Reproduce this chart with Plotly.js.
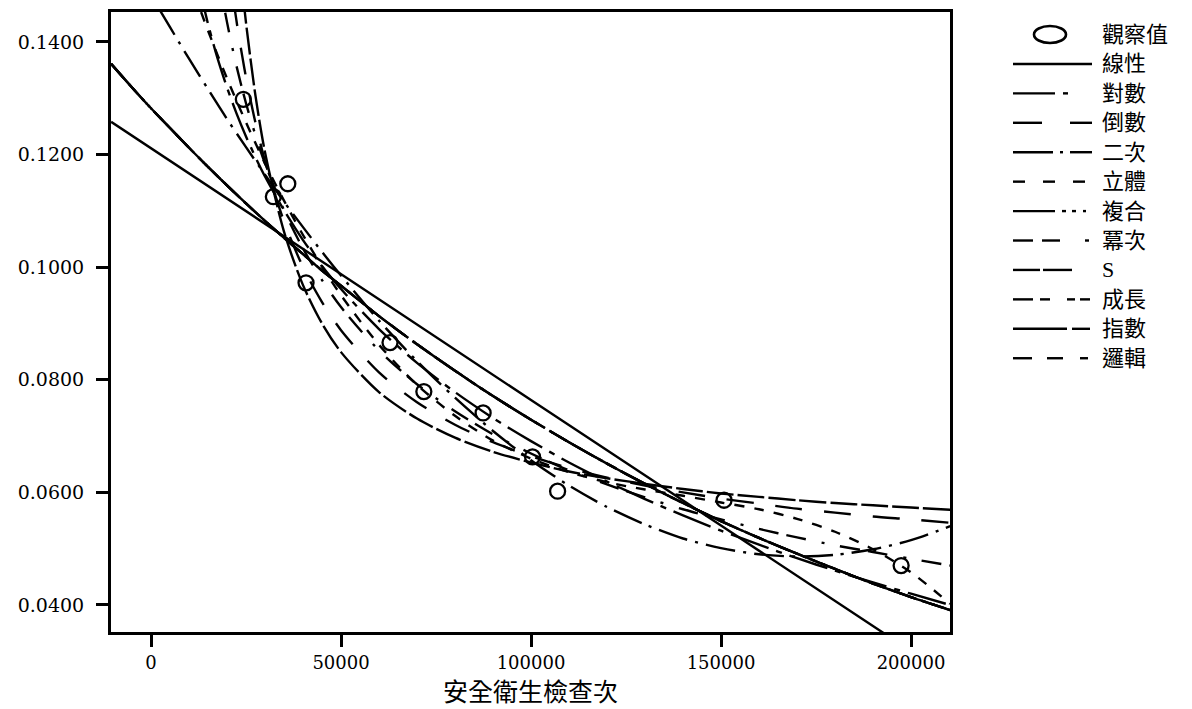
<!DOCTYPE html>
<html><head><meta charset="utf-8">
<script src="https://cdn.plot.ly/plotly-3.0.1.min.js"></script>
<style>html,body{margin:0;padding:0;background:#fff}#chart{width:1192px;height:709px}</style>
</head><body><div id="chart"></div>
<script>
// ---- data ----
const seriesNames = ['觀察值','線性','對數','倒數','二次','立體','複合','冪次','S','成長','指數','邏輯'];
const xTitle = '安全衛生檢查次';

const obsX = [24300, 32200, 36000, 40800, 62900, 71800, 87400, 100400, 107000, 150800, 197400];
const obsY = [0.1298, 0.1125, 0.1148, 0.0972, 0.0866, 0.0779, 0.0741, 0.0663, 0.0602, 0.0586, 0.0470];

const linX = [-10500, 50000, 100000, 150000, 200000];
const linY = [0.1258, 0.0987, 0.0764, 0.0541, 0.0318];

const xA = [-10500, -5000, 0, 5000, 10000, 15000, 20000, 25000, 30000, 35000, 40000, 45000, 50000,
  60000, 70000, 80000, 90000, 100000, 110000, 120000, 130000, 140000, 150000, 160000, 170000, 180000, 190000, 200000, 210300];
const expY = [0.1361, 0.1319, 0.1282, 0.1247, 0.1212, 0.1178, 0.1145, 0.1113, 0.1082, 0.1052, 0.1023, 0.0994, 0.0967,
  0.0913, 0.0863, 0.0816, 0.0771, 0.0729, 0.0689, 0.0651, 0.0615, 0.0581, 0.0549, 0.0519, 0.0491, 0.0464, 0.0438, 0.0414, 0.0391];
const quadY = [0.1610, 0.1543, 0.1483, 0.1426, 0.1370, 0.1316, 0.1263, 0.1213, 0.1164, 0.1116, 0.1071, 0.1027, 0.0985,
  0.0905, 0.0833, 0.0768, 0.0709, 0.0657, 0.0612, 0.0574, 0.0543, 0.0518, 0.0501, 0.0490, 0.0486, 0.0489, 0.0499, 0.0515, 0.0540];
const cubicY = [0.1961, 0.1828, 0.1715, 0.1610, 0.1512, 0.1420, 0.1335, 0.1257, 0.1184, 0.1118, 0.1057, 0.1001, 0.0950,
  0.0862, 0.0791, 0.0736, 0.0692, 0.0660, 0.0636, 0.0618, 0.0605, 0.0594, 0.0582, 0.0570, 0.0553, 0.0530, 0.0499, 0.0458, 0.0402];

const xB = [12500, 15000, 17500, 20000, 22500, 25000, 27500, 30000, 35000, 40000, 45000, 50000,
  60000, 70000, 80000, 90000, 100000, 110000, 120000, 130000, 140000, 150000, 160000, 170000, 180000, 190000, 200000, 210300];
const logY = [0.1503, 0.1432, 0.1371, 0.1319, 0.1273, 0.1232, 0.1195, 0.1161, 0.1101, 0.1048, 0.1002, 0.0961,
  0.0890, 0.0830, 0.0778, 0.0732, 0.0691, 0.0653, 0.0619, 0.0588, 0.0559, 0.0532, 0.0507, 0.0483, 0.0461, 0.0440, 0.0420, 0.0400];
const powY = [0.1793, 0.1645, 0.1529, 0.1435, 0.1357, 0.1291, 0.1234, 0.1184, 0.1101, 0.1033, 0.0977, 0.0929,
  0.0852, 0.0792, 0.0744, 0.0703, 0.0669, 0.0639, 0.0614, 0.0591, 0.0570, 0.0552, 0.0535, 0.0520, 0.0506, 0.0494, 0.0482, 0.0470];

const xC = [20000, 21000, 22000, 23000, 24000, 25000, 27500, 30000, 35000, 40000, 45000, 50000,
  60000, 70000, 80000, 90000, 100000, 110000, 120000, 130000, 140000, 150000, 160000, 170000, 180000, 190000, 200000, 210300];
const invY = [0.1562, 0.1508, 0.1460, 0.1415, 0.1375, 0.1337, 0.1256, 0.1188, 0.1081, 0.1000, 0.0938, 0.0888,
  0.0813, 0.0760, 0.0720, 0.0689, 0.0664, 0.0643, 0.0626, 0.0612, 0.0600, 0.0589, 0.0580, 0.0571, 0.0564, 0.0557, 0.0552, 0.0546];
const sY = [0.1864, 0.1752, 0.1655, 0.1579, 0.1498, 0.1434, 0.1304, 0.1204, 0.1063, 0.0968, 0.0900, 0.0849,
  0.0778, 0.0731, 0.0697, 0.0672, 0.0653, 0.0637, 0.0625, 0.0615, 0.0606, 0.0598, 0.0592, 0.0586, 0.0581, 0.0577, 0.0573, 0.0569];

const xTickVals = [0, 50000, 100000, 150000, 200000];
const xTickText = ['0', '50000', '100000', '150000', '200000'];
const yTickVals = [0.04, 0.06, 0.08, 0.10, 0.12, 0.14];
const yTickText = ['0.0400', '0.0600', '0.0800', '0.1000', '0.1200', '0.1400'];

// ---- styles ----
const BLACK = '#000';
const LW = 2.4;
const dashes = {
  '線性': 'solid',
  '對數': '40px,8px,6px,8px',
  '倒數': '27px,22px',
  '二次': '30px,8px,3px,8px',
  '立體': '10px,10px',
  '複合': '40px,6px,3px,6px,3px,6px,3px,6px',
  '冪次': '20px,8px,20px,16px,3px,16px',
  'S': '27px,4px',
  '成長': '20px,7px,10px,16px,8px,5px,8px,8px',
  '指數': '54px,5px,18px,5px',
  '邏輯': '18px,14px'
};
const curveData = [
  ['線性', linX, linY, 'linear'],
  ['對數', xB, logY, 'spline'],
  ['倒數', xC, invY, 'spline'],
  ['二次', xA, quadY, 'spline'],
  ['立體', xA, cubicY, 'spline'],
  ['複合', xA, expY, 'spline'],
  ['冪次', xB, powY, 'spline'],
  ['S', xC, sY, 'spline'],
  ['成長', xA, expY, 'spline'],
  ['指數', xA, expY, 'spline'],
  ['邏輯', xA, expY, 'spline']
];
const traces = curveData.map(([name, x, y, shape]) => ({
  type: 'scatter', mode: 'lines', name: name, x: x, y: y,
  line: {color: BLACK, width: LW, dash: dashes[name], shape: shape, smoothing: 0.8},
  hoverinfo: 'skip', showlegend: false
}));
traces.push({
  type: 'scatter', mode: 'markers', name: seriesNames[0], x: obsX, y: obsY,
  marker: {symbol: 'circle-open', size: 15, color: BLACK, line: {color: BLACK, width: 2.3}},
  cliponaxis: false, showlegend: false
});

// ---- hand-drawn legend (pixel positions) ----
const L = 111, R = 950, T = 12, B = 632;
const px = v => (v - L) / (R - L);
const py = v => (B - v) / (B - T);
const legendSegs = {
  '線性': [[1013, 1092]],
  '對數': [[1013, 1055], [1063, 1068]],
  '倒數': [[1013, 1042], [1070, 1092]],
  '二次': [[1013, 1053], [1060, 1063], [1070, 1092]],
  '立體': [[1013, 1025], [1043, 1055], [1073, 1085]],
  '複合': [[1013, 1055], [1062, 1066], [1072, 1076], [1083, 1086]],
  '冪次': [[1013, 1033], [1042, 1060], [1085, 1089]],
  'S': [[1013, 1040], [1043, 1072]],
  '成長': [[1013, 1033], [1040, 1050], [1067, 1075], [1080, 1090]],
  '指數': [[1013, 1067], [1072, 1090]],
  '邏輯': [[1013, 1032], [1047, 1063], [1080, 1088]]
};
const shapes = [];
const annotations = [];
const rowY0 = 34.5, rowStep = 29.43;
seriesNames.forEach((name, i) => {
  const yy = rowY0 + i * rowStep;
  if (i === 0) {
    shapes.push({type: 'circle', xref: 'paper', yref: 'paper',
      x0: px(1034), x1: px(1066), y0: py(yy - 8.5), y1: py(yy + 8.5),
      line: {color: BLACK, width: 2.6}});
  } else {
    legendSegs[name].forEach(([a, b]) => {
      shapes.push({type: 'line', xref: 'paper', yref: 'paper',
        x0: px(a), x1: px(b), y0: py(yy), y1: py(yy),
        line: {color: BLACK, width: 2.4}});
    });
  }
  annotations.push({xref: 'paper', yref: 'paper', x: px(1100), y: py(yy),
    xanchor: 'left', yanchor: 'middle', showarrow: false, text: name,
    font: {family: '"Liberation Serif", "Noto Sans CJK TC"', size: 22, color: BLACK}});
});
// x-axis title placed under the tick labels
annotations.push({xref: 'paper', yref: 'paper', x: 0.5, y: py(690),
  xanchor: 'center', yanchor: 'middle', showarrow: false, text: xTitle, borderpad: 0,
  font: {family: '"Noto Sans CJK TC"', size: 25, color: BLACK}});

const axisCommon = {
  showgrid: false, zeroline: false, showline: true, mirror: true,
  linecolor: BLACK, linewidth: 3, ticks: 'outside', ticklen: 12, tickwidth: 3,
  tickcolor: BLACK, fixedrange: true
};
const layout = {
  width: 1192, height: 709,
  margin: {l: L, r: 1192 - R, t: T, b: 709 - B, pad: 0},
  paper_bgcolor: '#fff', plot_bgcolor: '#fff', showlegend: false,
  xaxis: Object.assign({}, axisCommon, {
    range: [-10526, 210263], tickmode: 'array', tickvals: xTickVals, ticktext: xTickText,
    tickfont: {family: 'DejaVu Serif', size: 18, color: BLACK}, ticklabelstandoff: 0
  }),
  yaxis: Object.assign({}, axisCommon, {
    range: [0.0352, 0.1453], tickmode: 'array', tickvals: yTickVals, ticktext: yTickText,
    tickfont: {family: 'DejaVu Serif', size: 19, color: BLACK}, ticklabelstandoff: 8
  }),
  shapes: shapes, annotations: annotations
};
Plotly.newPlot('chart', traces, layout, {staticPlot: true, displayModeBar: false});
</script>
</body></html>
